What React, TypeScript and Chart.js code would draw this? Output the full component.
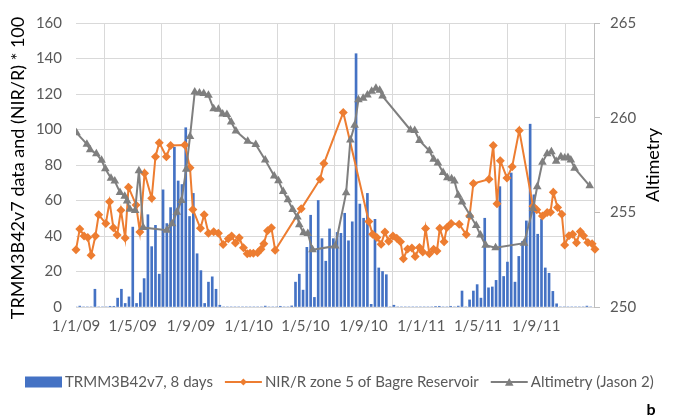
import React, { useEffect, useRef } from 'react';
import { Chart, registerables } from 'chart.js';

Chart.register(...registerables);

// All x positions are days counted from 1 January 2009.
const ORIGIN = Date.UTC(2009, 0, 1);
const MS_PER_DAY = 86400000;

const axisDates = [
  '2009-01-01', '2009-05-01', '2009-09-01',
  '2010-01-01', '2010-05-01', '2010-09-01',
  '2011-01-01', '2011-05-01', '2011-09-01',
  '2012-01-01',
];

// TRMM 3B42 v7 rainfall, one 8-day composite after another from 1 Jan 2009.
const COMPOSITE_DAYS = 8;
const trmmRain = [
  0, 0.5, 0, 0, 0, 10, 0, 0, 0, 0.4,
  0.4, 5, 10, 2, 5.7, 45, 2, 8, 16, 52,
  34, 46, 18.5, 66, 47, 56, 90, 71, 69, 101,
  51, 64, 30, 20.5, 2, 14, 17, 10, 1, 0,
  0, 0, 0, 0, 0, 0, 0, 0, 0, 0,
  0.5, 0, 0, 0, 0.4, 0, 0, 0.6, 14, 18.5,
  9.5, 33.6, 51.7, 5.4, 60, 38.5, 25.8, 44, 38.5, 42,
  41.5, 52.8, 37.3, 48, 142.7, 58, 50, 64, 1.5, 49.4,
  22, 20, 18.2, 0, 1, 0, 0, 0, 0, 0,
  0, 0, 0, 0, 0, 0.3, 0.4, 0, 0, 0.4,
  0, 0.5, 9, 0, 4, 9, 12.6, 5, 50, 10.8,
  11.3, 15, 67.8, 17.2, 25.3, 75.5, 14, 28.5, 37, 48.5,
  103, 63.2, 41, 49.4, 22, 19, 8.8, 1.8, 0, 0,
  0, 0, 0, 0, 0, 0.5, 0,
];

// NIR/R ratio (x100) of zone 5, Bagre Reservoir.
const nirDays = [
  0, 8, 17, 25, 32, 41, 48, 63, 71, 79,
  87, 95, 104, 111, 127, 135, 145, 160, 168, 176,
  191, 200, 230, 241, 247, 263, 271, 280, 291, 301,
  311, 322, 329, 337, 345, 354, 362, 368, 375, 384,
  391, 397, 405, 413, 421, 476, 516, 524, 565, 619,
  627, 636, 645, 653, 661, 670, 678, 686, 692, 701,
  710, 717, 726, 733, 739, 747, 756, 763, 769, 778,
  784, 793, 810, 825, 832, 840, 873, 882, 890, 897,
  911, 922, 937, 966, 974, 986, 996, 1003, 1009, 1018,
  1027, 1033, 1042, 1050, 1058, 1066, 1073, 1082, 1091, 1097,
];
const nirValues = [
  32.2, 44, 40, 39.2, 29.2, 40, 52, 47, 59.3, 44.7,
  40.6, 54.5, 38.9, 67.5, 57.5, 42.3, 75.4, 61.2, 84.7, 92.6,
  84.7, 91, 91.2, 78.4, 55, 44.3, 52, 41.6, 42.4, 41.5,
  35.2, 38.4, 40, 36, 39, 33.4, 30, 30.3, 30.3, 30.5,
  32.5, 35.7, 43, 44.7, 32, 55.3, 72, 80.8, 109.6, 48.1,
  41, 39.2, 35.3, 42.3, 37, 40, 38.8, 36.8, 27.2, 32.7,
  33.3, 28.5, 33.5, 31, 44.2, 30, 32.5, 31.6, 44.3, 36.7,
  44.8, 47, 46.6, 40.8, 51.3, 69.6, 72, 91, 58.2, 82.4,
  72.7, 79, 99.5, 56.8, 54.8, 51.3, 53.3, 53.4, 64.7, 56,
  52.2, 35, 40.1, 41, 36.2, 42.6, 40.1, 36.4, 35.6, 32.5,
];

// Jason-2 water level (m).
const altDays = [
  1, 23, 30, 43, 54, 62, 74, 82, 93, 103,
  108, 114, 125, 133, 142, 192, 203, 213, 223, 233,
  241, 251, 261, 270, 280, 291, 301, 310, 319, 328,
  338, 363, 380, 400, 419, 428, 438, 448, 458, 468,
  472, 481, 490, 500, 548, 571, 580, 589, 597, 607,
  616, 625, 634, 642, 648, 707, 716, 726, 747, 756,
  765, 776, 785, 794, 800, 808, 816, 833, 846, 855,
  866, 887, 947, 966, 975, 986, 996, 1005, 1015, 1025,
  1033, 1040, 1046, 1054, 1086,
];
const altValues = [
  259.2, 258.6, 258.3, 258.1, 257.75, 257.3, 256.8, 256.65, 256.05, 255.85,
  255.6, 255.16, 255.1, 257.2, 254.2, 254.06, 254.4, 255.0, 255.63, 257.28,
  259.0, 261.35, 261.3, 261.27, 261.18, 260.47, 260.45, 260.2, 260.17, 259.77,
  259.3, 258.75, 258.58, 257.77, 256.92, 256.67, 256.1, 255.66, 255.15, 254.75,
  254.35, 253.92, 253.88, 253.02, 253.22, 256.03, 258.82, 259.6, 260.94, 261.03,
  261.2, 261.4, 261.55, 261.45, 261.14, 259.35, 259.32, 258.8, 258.25, 257.8,
  257.6, 257.1, 256.83, 256.78, 256.65, 255.9, 255.55, 254.85, 254.3, 253.8,
  253.26, 253.13, 253.37, 255.2, 256.35, 257.64, 258.1, 258.2, 257.7, 257.94,
  257.87, 257.9, 257.77, 257.33, 256.4,
];

const seriesLabels = [
  'TRMM3B42v7, 8 days',
  'NIR/R zone 5 of Bagre Reservoir',
  'Altimetry (Jason 2)',
];
const leftTitle = 'TRMM3B42v7 data and (NIR/R) * 100';
const rightTitle = 'Altimetry';
const panelTag = 'b';

const BLUE = '#4472C4';
const ORANGE = '#ED7D31';
const GRAY = '#7F7F7F';
const GRID = '#D9D9D9';
const TICK_TEXT = '#595959';
const FONT = 'Lato, "Open Sans", sans-serif';

const toDay = (iso: string) => {
  const [y, m, d] = iso.split('-').map(Number);
  return Math.round((Date.UTC(y, m - 1, d) - ORIGIN) / MS_PER_DAY);
};
const axisDays = axisDates.map(toDay);
const lastAxisDay = axisDays[axisDays.length - 1];

const formatDay = (day: number) => {
  if (day >= lastAxisDay) return '';
  const dt = new Date(ORIGIN + day * MS_PER_DAY);
  const yy = String(dt.getUTCFullYear() % 100).padStart(2, '0');
  return `${dt.getUTCDate()}/${dt.getUTCMonth() + 1}/${yy}`;
};

function diamond(ctx: CanvasRenderingContext2D, x: number, y: number, r: number) {
  ctx.beginPath();
  ctx.moveTo(x, y - r);
  ctx.lineTo(x + r, y);
  ctx.lineTo(x, y + r);
  ctx.lineTo(x - r, y);
  ctx.closePath();
  ctx.fill();
}

function triangle(ctx: CanvasRenderingContext2D, x: number, y: number, r: number) {
  ctx.beginPath();
  ctx.moveTo(x, y - r);
  ctx.lineTo(x + r * 0.95, y + r * 0.7);
  ctx.lineTo(x - r * 0.95, y + r * 0.7);
  ctx.closePath();
  ctx.fill();
}

// Axis titles, the legend row and the panel letter.
const decorations = {
  id: 'decorations',
  afterDraw(chart: any) {
    const { ctx, chartArea } = chart;
    const midY = (chartArea.top + chartArea.bottom) / 2;
    ctx.save();

    ctx.fillStyle = '#000000';
    ctx.font = `18px ${FONT}`;
    ctx.textAlign = 'center';
    ctx.textBaseline = 'middle';
    ctx.save();
    ctx.translate(18, midY + 3);
    ctx.rotate(-Math.PI / 2);
    ctx.fillText(leftTitle, 0, 0);
    ctx.restore();
    ctx.save();
    ctx.translate(chartArea.right + 59, midY);
    ctx.rotate(-Math.PI / 2);
    ctx.fillText(rightTitle, 0, 0);
    ctx.restore();

    // legend
    const ly = 382;
    let lx = 25;
    const sym = 37;
    ctx.font = `15px ${FONT}`;
    ctx.textAlign = 'left';
    chart.data.datasets.forEach((ds: any, i: number) => {
      if (i === 0) {
        ctx.fillStyle = BLUE;
        ctx.fillRect(lx, ly - 5.5, sym, 11);
      } else {
        const c = i === 1 ? ORANGE : GRAY;
        ctx.strokeStyle = c;
        ctx.fillStyle = c;
        ctx.lineWidth = 2;
        ctx.beginPath();
        ctx.moveTo(lx, ly);
        ctx.lineTo(lx + sym, ly);
        ctx.stroke();
        if (i === 1) diamond(ctx, lx + sym / 2, ly, 3.5);
        else triangle(ctx, lx + sym / 2, ly + 0.5, 4.5);
      }
      ctx.fillStyle = TICK_TEXT;
      ctx.fillText(ds.label, lx + sym + 3, ly);
      lx += sym + 3 + ctx.measureText(ds.label).width + 12;
    });

    ctx.fillStyle = '#000000';
    ctx.font = `bold 16px ${FONT}`;
    ctx.textAlign = 'center';
    ctx.fillText(panelTag, 651, 410);
    ctx.restore();
  },
};

export default function App() {
  const canvasRef = useRef<HTMLCanvasElement | null>(null);

  useEffect(() => {
    if (!canvasRef.current) return;
    const chart = new Chart(canvasRef.current, {
      type: 'bar',
      data: {
        datasets: [
          {
            type: 'bar',
            label: seriesLabels[0],
            data: trmmRain.map((v, k) => ({ x: k * COMPOSITE_DAYS, y: v })),
            backgroundColor: BLUE,
            borderWidth: 0,
            barThickness: 2,
            yAxisID: 'y',
            order: 2,
          },
          {
            type: 'line',
            label: seriesLabels[1],
            data: nirDays.map((d, i) => ({ x: d, y: nirValues[i] })),
            borderColor: ORANGE,
            backgroundColor: ORANGE,
            borderWidth: 2,
            pointStyle: 'rectRot',
            pointRadius: 4.5,
            pointBorderWidth: 0,
            yAxisID: 'y',
            clip: false,
            order: 1,
          },
          {
            type: 'line',
            label: seriesLabels[2],
            data: altDays.map((d, i) => ({ x: d, y: altValues[i] })),
            borderColor: GRAY,
            backgroundColor: GRAY,
            borderWidth: 2,
            pointStyle: 'triangle',
            pointRadius: 5,
            pointBorderWidth: 0,
            yAxisID: 'y1',
            order: 0,
          },
        ] as any,
      },
      options: {
        animation: false,
        responsive: false,
        maintainAspectRatio: false,
        layout: { padding: { top: 20, left: 0, right: 0, bottom: 0 } },
        plugins: {
          legend: { display: false },
          tooltip: { enabled: false },
        },
        scales: {
          x: {
            type: 'linear',
            min: axisDays[0],
            max: lastAxisDay,
            offset: false,
            afterBuildTicks: (scale: any) => {
              scale.ticks = axisDays.map((v) => ({ value: v }));
            },
            afterFit: (scale: any) => {
              scale.height = 112;
            },
            grid: { color: GRID, drawTicks: false },
            border: { display: true, color: GRID },
            ticks: {
              padding: 10,
              autoSkip: false,
              maxRotation: 0,
              color: TICK_TEXT,
              font: { family: FONT, size: 15 },
              callback: (v: any) => formatDay(Number(v)),
            },
          },
          y: {
            type: 'linear',
            position: 'left',
            min: 0,
            max: 160,
            afterFit: (scale: any) => {
              scale.width = 76;
            },
            grid: { color: GRID, drawTicks: false },
            border: { display: false },
            ticks: {
              stepSize: 20,
              padding: 14,
              color: TICK_TEXT,
              font: { family: FONT, size: 15 },
            },
          },
          y1: {
            type: 'linear',
            position: 'right',
            min: 250,
            max: 265,
            afterFit: (scale: any) => {
              scale.width = 81;
            },
            grid: { drawOnChartArea: false, color: '#BFBFBF', tickLength: 6 },
            border: { display: true, color: '#BFBFBF' },
            ticks: {
              stepSize: 5,
              padding: 10,
              color: TICK_TEXT,
              font: { family: FONT, size: 15 },
            },
          },
        },
      } as any,
      plugins: [decorations],
    });
    return () => chart.destroy();
  }, []);

  return (
    <div style={{ position: 'fixed', left: 0, top: 0, width: 675, height: 419, background: '#fff' }}>
      <canvas ref={canvasRef} width={675} height={419} />
    </div>
  );
}
